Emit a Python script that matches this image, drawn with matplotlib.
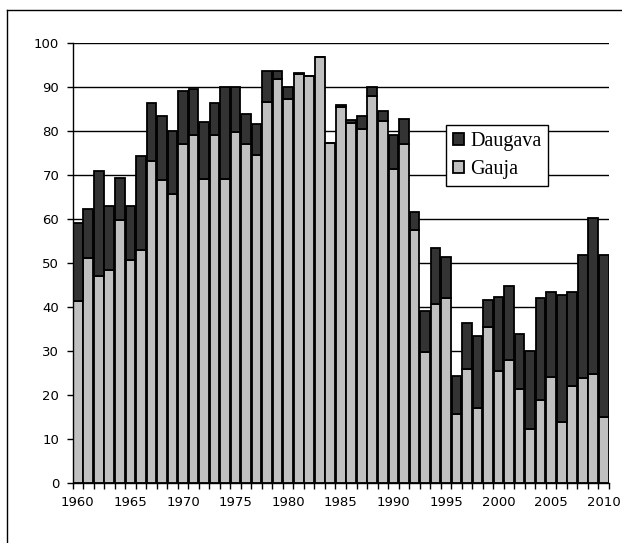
import numpy as np
import matplotlib.pyplot as plt
from matplotlib.lines import Line2D

years = list(range(1960, 2011))

# bottom series (light grey)
gauja = [41.4, 51.2, 47.0, 48.5, 59.8, 50.6, 53.0, 73.2, 68.9, 65.7,
         77.0, 79.1, 69.2, 79.1, 69.2, 79.8, 77.0, 74.5, 86.7, 91.8,
         87.3, 93.0, 92.6, 96.9, 77.2, 85.4, 81.9, 80.5, 88.0, 82.3,
         71.3, 77.0, 57.6, 29.8, 40.7, 42.0, 15.7, 25.9, 17.1, 35.4,
         25.5, 28.0, 21.4, 12.2, 18.9, 24.0, 13.9, 22.0, 23.8, 24.8,
         15.1]

# top series (dark)
daugava = [17.8, 11.1, 23.8, 14.5, 9.6, 12.4, 21.4, 13.2, 14.6, 14.3,
           12.2, 10.4, 12.8, 7.2, 20.9, 10.2, 6.8, 7.1, 7.0, 1.9,
           2.8, 0.1, 0.0, 0.0, 0.0, 0.5, 0.7, 3.0, 2.1, 2.3,
           7.9, 5.7, 4.1, 9.4, 12.6, 9.4, 8.6, 10.4, 16.3, 6.2,
           16.8, 16.8, 12.5, 17.8, 23.1, 19.3, 28.8, 21.3, 28.0, 35.5,
           36.7]

W, H = 622, 543
fig = plt.figure(figsize=(W / 100, H / 100), dpi=100)
ax = fig.add_axes([72.5 / W, 1 - 483 / H, (609 - 72.5) / W, (483 - 43) / H])

x = np.arange(len(years))
ax.bar(x, gauja, width=0.92, color="#c0c0c0", edgecolor="black", linewidth=1.3,
       label="Gauja", zorder=2)
ax.bar(x, daugava, bottom=gauja, width=0.92, color="#333333", edgecolor="black",
       linewidth=1.3, label="Daugava", zorder=2)

ax.set_xlim(-0.5, len(years) - 0.5)
ax.set_ylim(0, 100)

# gridlines
for v in range(10, 101, 10):
    ax.axhline(v, color="black", linewidth=1.0, zorder=1)

ax.spines["top"].set_visible(False)
ax.spines["right"].set_visible(False)
ax.spines["left"].set_linewidth(1.0)
ax.spines["bottom"].set_linewidth(1.0)
ax.spines["bottom"].set_zorder(3)

ax.set_yticks(range(0, 101, 10))
ax.tick_params(axis="y", direction="out", length=4.5, width=1.0, pad=5,
               labelsize=9.5, colors="black")

# tick marks between categories, labels every 5 years
ax.set_xticks(np.arange(-0.5, len(years), 1))
ax.set_xticklabels([])
ax.tick_params(axis="x", which="major", direction="out", length=4.5, width=1.0)
lab_pos = [i for i, y in enumerate(years) if y % 5 == 0]
ax.set_xticks(lab_pos, minor=True)
ax.set_xticklabels([str(years[i]) for i in lab_pos], minor=True, fontsize=9.5,
                   family="DejaVu Sans")
ax.tick_params(axis="x", which="minor", length=0, pad=9)

for lbl in ax.get_yticklabels():
    lbl.set_family("DejaVu Sans")

handles, labels = ax.get_legend_handles_labels()
leg = ax.legend(handles[::-1], labels[::-1], loc="upper left",
                bbox_to_anchor=(446 / W, 1 - 125 / H), bbox_transform=fig.transFigure,
                frameon=True, fancybox=False, edgecolor="black", framealpha=1,
                prop={"family": "Liberation Serif", "size": 14.5},
                handlelength=0.55, handleheight=0.55, handletextpad=0.3,
                borderpad=0.35, labelspacing=0.45, borderaxespad=0)
leg.get_frame().set_linewidth(1.0)
leg.set_zorder(5)

# outer chart frame (only left and top edges visible)
fig.add_artist(Line2D([7 / W, 7 / W], [0, 1 - 10 / H], color="black", linewidth=1.0))
fig.add_artist(Line2D([7 / W, 1], [1 - 10 / H, 1 - 10 / H], color="black", linewidth=1.0))

fig.savefig("out.png", dpi=100)
